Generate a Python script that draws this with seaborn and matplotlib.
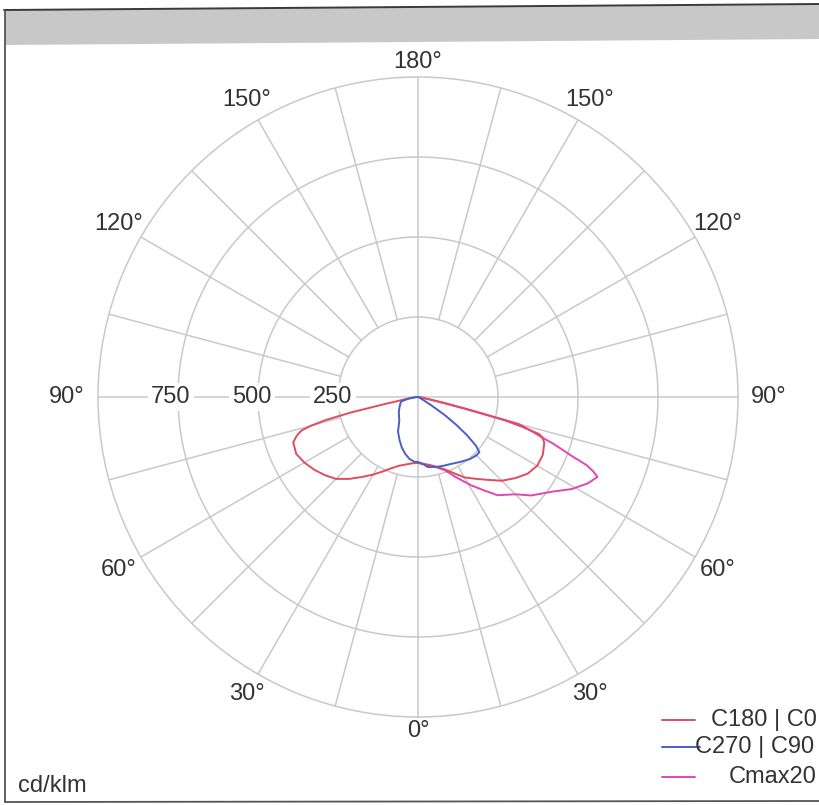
import numpy as np
import pandas as pd
import matplotlib
matplotlib.use("Agg")
import matplotlib.pyplot as plt
import seaborn as sns
from matplotlib.lines import Line2D
from matplotlib.patches import Polygon

# ---------------- data (cd/klm) ----------------
# C180 | C0 : left half (C180) and right half (C0), gamma in degrees
red_left_gamma = [0, 5, 10, 15, 20, 25, 30, 35, 40, 45, 50, 55, 60, 65, 70, 72, 73, 74, 75, 76, 77, 78, 80, 85, 90]
red_left_val = [206, 208, 214, 222, 236, 256, 280, 305, 334, 362, 380, 396, 410, 420, 415, 400, 390, 378, 345, 295, 215, 110, 40, 10, 0]
red_right_gamma = [0, 5, 10, 15, 20, 25, 30, 35, 40, 45, 50, 55, 60, 65, 70, 72, 73, 74, 75, 76, 77, 78, 80, 85, 90]
red_right_val = [206, 210, 216, 226, 240, 262, 290, 312, 338, 370, 395, 418, 430, 430, 420, 409, 395, 340, 280, 150, 80, 40, 15, 5, 0]

# C270 | C90
blue_left_gamma = [0, 3, 8, 13, 18, 23, 30, 38, 45, 52, 60, 68, 75, 80, 85, 90]
blue_left_val = [203, 203, 195, 181, 165, 147, 125, 95, 84, 76, 67, 60, 55, 31, 10, 0]
blue_right_gamma = [0, 5, 8, 15, 20, 26, 33, 40, 45, 48, 50, 52, 54, 56, 58, 60, 63, 70, 90]
blue_right_val = [203, 212, 221, 226, 229, 233, 242, 253, 258, 258, 236, 195, 148, 100, 49, 22, 8, 2, 0]

# Cmax20
pink_gamma = [0, 5, 8, 15, 20, 25, 31, 35, 39, 45, 49, 55, 59, 63, 66, 67, 68, 69, 70, 71, 72, 73, 74, 75, 76, 77, 78, 80, 85, 90]
pink_val = [206, 210, 215, 228, 243, 275, 322, 355, 395, 430, 469, 515, 559, 595, 614, 595, 568, 515, 478, 445, 405, 378, 352, 325, 170, 90, 45, 18, 5, 0]

series_names = ["C180 | C0", "C270 | C90", "Cmax20"]
series_colors = ["#e34b5e", "#4a5ec8", "#e046b4"]

ring_values = [250, 500, 750]
ring_labels = ["250", "500", "750"]
angle_ticks = [0, 30, 60, 90, 120, 150, 180]
angle_labels = ["0°", "30°", "60°", "90°", "120°", "150°", "180°"]


def path(left_g, left_v, right_g, right_v):
    th = [-g for g in left_g[::-1]] + list(right_g[1:])
    rr = list(left_v[::-1]) + list(right_v[1:])
    return np.deg2rad(th), rr


rows = []
for name, (th, rr) in zip(
    series_names,
    [path(red_left_gamma, red_left_val, red_right_gamma, red_right_val),
     path(blue_left_gamma, blue_left_val, blue_right_gamma, blue_right_val),
     (np.deg2rad(pink_gamma), pink_val)]):
    for i, (t, r) in enumerate(zip(th, rr)):
        rows.append({"series": name, "theta": t, "r": r, "order": i})
df = pd.DataFrame(rows)

# ---------------- figure ----------------
sns.set_style("white")
plt.rcParams["font.family"] = ["Liberation Sans", "DejaVu Sans"]

W, H = 819, 805
fig = plt.figure(figsize=(W / 100, H / 100), dpi=100)
fig.patch.set_facecolor("white")


def fx(x):
    return x / W


def fy(y):
    return 1 - y / H


cx, cy, R = 418, 397, 320
ax = fig.add_axes([fx(cx - R), fy(cy + R), 2 * R / W, 2 * R / H], projection="polar")
ax.set_theta_zero_location("S")
ax.set_theta_direction(1)
ax.set_ylim(0, 1000)
ax.set_xticks([])
ax.set_yticks([])
ax.grid(False)
gridc = "#c9c9c9"
ax.spines["polar"].set_color(gridc)
ax.spines["polar"].set_linewidth(1.1)
ax.set_facecolor("white")

# grid
for ang in range(0, 360, 15):
    r0 = 0 if ang % 90 == 0 else 250
    ax.plot([np.deg2rad(ang)] * 2, [r0, 1000], color=gridc, lw=1.1, zorder=1)
tt = np.linspace(0, 2 * np.pi, 361)
for rv in ring_values:
    ax.plot(tt, np.full_like(tt, rv), color=gridc, lw=1.1, zorder=1)

# curves (pink first, then red, blue)
order = ["Cmax20", "C180 | C0", "C270 | C90"]
pal = dict(zip(series_names, series_colors))
for name in order:
    sub = df[df.series == name].sort_values("order")
    sns.lineplot(data=sub, x="theta", y="r", sort=False, estimator=None,
                 color=pal[name], lw=1.4, ax=ax, legend=False, zorder=3)
ax.set_xlabel("")
ax.set_ylabel("")
ax.set_ylim(0, 1000)
ax.set_xticks([])
ax.set_yticks([])

# angle labels
lab_px = {0: 334, 30: 343, 60: 346, 90: 351, 120: 346, 150: 343, 180: 335}
fs = 17
tcol = "#333333"
for a, lab in zip(angle_ticks, angle_labels):
    rr = lab_px[a] / 0.32
    sides = [a] if a in (0, 180) else [a, -a]
    for s in sides:
        ax.text(np.deg2rad(s), rr, lab, ha="center", va="center", fontsize=fs,
                color=tcol, clip_on=False)

# radial labels on the left horizontal line
ring_lab_px = [85, 166, 247]
for rv, lab, px in zip(ring_values, ring_labels, ring_lab_px):
    ax.text(np.deg2rad(-90), px / 0.32, lab, ha="center", va="center", fontsize=fs,
            color=tcol, zorder=2,
            bbox=dict(boxstyle="square,pad=0.12", fc="white", ec="none"))

# frame decorations
fig.add_artist(Polygon([(fx(5), fy(10)), (fx(819), fy(4)), (fx(819), fy(39)), (fx(5), fy(45))],
                       closed=True, transform=fig.transFigure, fc="#c8c8c8", ec="none"))
fig.add_artist(Line2D([fx(4), fx(819)], [fy(10), fy(4)], transform=fig.transFigure,
                      color="#3a3a3a", lw=1.4))
fig.add_artist(Line2D([fx(5), fx(5)], [fy(10), fy(802)], transform=fig.transFigure,
                      color="#555555", lw=1.3))
fig.add_artist(Line2D([fx(5), fx(819)], [fy(802), fy(801)], transform=fig.transFigure,
                      color="#555555", lw=1.3))

# unit label
fig.text(fx(18), fy(786), "cd/klm", ha="left", va="center", fontsize=fs, color=tcol)

# legend
leg_y = [720, 747, 777]
leg_line_x = [(662, 695), (662, 700), (662, 695)]
leg_text_x = [711, 695, 729]
for name, col, y, (x0, x1), xt in zip(series_names, series_colors, leg_y, leg_line_x, leg_text_x):
    fig.add_artist(Line2D([fx(x0), fx(x1)], [fy(y), fy(y)], transform=fig.transFigure,
                          color=col, lw=1.4))
    fig.text(fx(xt), fy(y), name, ha="left", va="center", fontsize=fs, color=tcol)

fig.savefig("out.png", dpi=100, facecolor="white")
